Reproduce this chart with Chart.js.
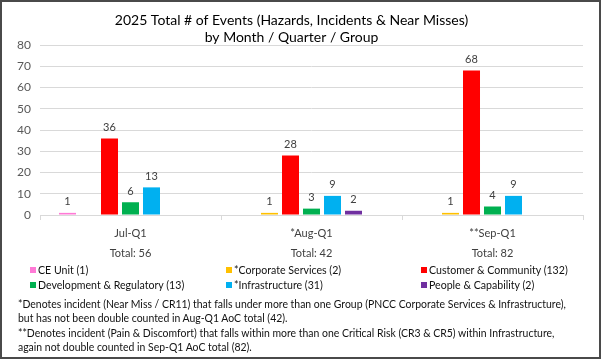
<!DOCTYPE html>
<html><head><meta charset="utf-8">
<script src="https://cdn.jsdelivr.net/npm/chart.js@4.4.1/dist/chart.umd.min.js"></script>
<style>
html,body{margin:0;padding:0;background:#fff;}
#wrap{position:relative;width:601px;height:359px;overflow:hidden;background:#fff;font-family:Lato,sans-serif;}
#frame{position:absolute;left:0;top:0;width:601px;height:359px;box-sizing:border-box;border:2px solid #4a4a4a;pointer-events:none;}
#c{position:absolute;left:0;top:0;}
.li{position:absolute;font-size:10.6px;color:#111;white-space:nowrap;line-height:12px;}
.sw{position:absolute;width:6px;height:6px;}
#notes{position:absolute;left:18px;top:297px;font-size:10.45px;line-height:14.4px;color:#111;white-space:nowrap;}
</style></head>
<body><div id="wrap"><canvas id="c" width="601" height="359"></canvas><div id="legend"></div><div id="notes"></div><div id="frame"></div></div>
<script>
// ---- data ----
const titleLines = ['2025 Total # of Events (Hazards, Incidents & Near Misses)', 'by Month / Quarter / Group'];
const categories = ['Jul-Q1', '*Aug-Q1', '**Sep-Q1'];
const totals = [56, 42, 82];
const seriesNames = ['CE Unit (1)', '*Corporate Services (2)', 'Customer & Community (132)', 'Development & Regulatory (13)', '*Infrastructure (31)', 'People & Capability (2)'];
const seriesColors = ['#FF7AD6', '#FFC000', '#FF0000', '#00B050', '#00B0F0', '#7030A0'];
const ceUnit = [1, null, null];
const corporateServices = [null, 1, 1];
const customerCommunity = [36, 28, 68];
const developmentRegulatory = [6, 3, 4];
const infrastructure = [13, 9, 9];
const peopleCapability = [null, 2, null];
const yTicks = [0, 10, 20, 30, 40, 50, 60, 70, 80];
const notes = [
  '*Denotes incident (Near Miss / CR11) that falls under more than one Group (PNCC Corporate Services & Infrastructure),',
  'but has not been double counted in Aug-Q1 AoC total (42).',
  '**Denotes incident (Pain & Discomfort) that falls within more than one Critical Risk (CR3 & CR5) within Infrastructure,',
  'again not double counted in Sep-Q1 AoC total (82).'
];
const seriesValues = [ceUnit, corporateServices, customerCommunity, developmentRegulatory, infrastructure, peopleCapability];

const FONT = 'Lato, sans-serif';
const GRID = '#D9D9D9';

const datasets = seriesValues.map((v, i) => ({
  label: seriesNames[i], data: v, backgroundColor: seriesColors[i],
  categoryPercentage: 0.812, barPercentage: 0.81
}));
// empty placeholder series slot (as in the original chart)
datasets.push({label: '', data: [null, null, null], backgroundColor: 'rgba(0,0,0,0)', categoryPercentage: 0.812, barPercentage: 0.81});

const valueLabels = {
  id: 'valueLabels',
  afterDatasetsDraw(chart) {
    const ctx = chart.ctx;
    ctx.save();
    ctx.font = '11px ' + FONT;
    ctx.fillStyle = '#404040';
    ctx.textAlign = 'center';
    ctx.textBaseline = 'middle';
    chart.data.datasets.forEach((ds, di) => {
      const meta = chart.getDatasetMeta(di);
      meta.data.forEach((el, i) => {
        const v = ds.data[i];
        if (v === null || v === undefined) return;
        ctx.fillText(String(v), el.x, el.y - 11);
      });
    });
    ctx.restore();
  }
};

const chart = new Chart(document.getElementById('c'), {
  type: 'bar',
  data: { labels: categories.map((c, i) => [c, 'Total: ' + totals[i]]), datasets },
  options: {
    responsive: false, animation: false,
    layout: { padding: { left: 0, right: 18, top: 0, bottom: 100 } },
    plugins: {
      legend: { display: false }, tooltip: { enabled: false },
      title: { display: true, text: titleLines, color: '#000', font: { family: FONT, size: 14, weight: 'normal', lineHeight: '17px' }, padding: { top: 12, bottom: 6 } }
    },
    scales: {
      x: {
        offset: true,
        grid: { display: true, drawOnChartArea: false, drawTicks: true, tickLength: 5, color: GRID, offset: true },
        border: { display: true, color: GRID },
        ticks: { color: '#404040', font: { family: FONT, size: 11, lineHeight: '20px' }, padding: 3, maxRotation: 0, autoSkip: false }
      },
      y: {
        min: 0, max: 80,
        afterBuildTicks(s) { s.ticks = yTicks.map(v => ({ value: v })); },
        afterFit(s) { s.width = 40; },
        grid: { color: GRID, drawTicks: false },
        border: { display: false },
        ticks: { color: '#595959', font: { family: FONT, size: 12 }, padding: 9 }
      }
    }
  },
  plugins: [valueLabels]
});

// pin plot area to the original's geometry
const ca = chart.chartArea;
chart.options.plugins.title.padding.bottom += 45 - ca.top;
chart.options.layout.padding.bottom += ca.bottom - 215;
chart.update();

// legend (3-column grid as in original)
const colX = [30, 226, 421], rowY = [270, 285];
const lg = document.getElementById('legend');
seriesNames.forEach((n, i) => {
  const cx = colX[i % 3], cy = rowY[Math.floor(i / 3)];
  const sw = document.createElement('div'); sw.className = 'sw';
  sw.style.left = cx + 'px'; sw.style.top = (cy - 3) + 'px'; sw.style.background = seriesColors[i];
  const t = document.createElement('div'); t.className = 'li'; t.textContent = n;
  t.style.left = (cx + 8) + 'px'; t.style.top = (cy - 6.5) + 'px';
  lg.appendChild(sw); lg.appendChild(t);
});
document.getElementById('notes').innerHTML = notes.map(l => '<div>' + l.replace(/&/g, '&amp;') + '</div>').join('');
</script>
</body></html>
